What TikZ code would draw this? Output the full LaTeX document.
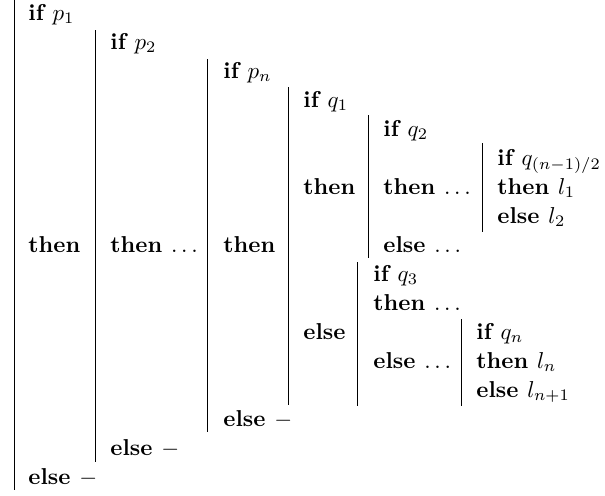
\documentclass[tikz,border=0pt]{standalone}
\usepackage{tikz}

\tikzset{
	kw/.style={anchor=base west, inner sep=0pt, font=\bfseries},
	bar/.style={line width=0.3pt}
}

\begin{document}
\begin{tikzpicture}[x=0.435pt, y=-0.435pt]
\useasboundingbox (0,0) rectangle (605,495);
% outer chain of p's
\node[kw] (ifp1) at (28,20) {if $p_1$};
\node[kw] (ifp2) at (110,49) {if $p_2$};
\node[kw] (ifpn) at (223,78) {if $p_n$};
\node[kw] (ifq1) at (303,107) {if $q_1$};
\node[kw] (ifq2) at (383,136) {if $q_2$};
\node[kw] (ifqh) at (497,165) {if $q_{(n-1)/2}$};
\node[kw] (thenq1) at (303,194) {then};
\node[kw] (thenq2) at (383,194) {then $\ldots$};
\node[kw] (thenl1) at (497,194) {then $l_1$};
\node[kw] (elsel2) at (497,223) {else $l_2$};
\node[kw] (then1) at (28,252) {then};
\node[kw] (then2) at (110,252) {then $\ldots$};
\node[kw] (then3) at (223,252) {then};
\node[kw] (elseq2) at (383,252) {else $\ldots$};
% else branch of q1
\node[kw] (ifq3) at (373,281) {if $q_3$};
\node[kw] (thenq3) at (373,310) {then $\ldots$};
\node[kw] (elseq1) at (303,339) {else};
\node[kw] (ifqn) at (476,339) {if $q_n$};
\node[kw] (elseq3) at (373,368) {else $\ldots$};
\node[kw] (thenln) at (476,368) {then $l_n$};
\node[kw] (elseln) at (476,397) {else $l_{n+1}$};
\node[kw] (elsepn) at (223,426) {else $-$};
\node[kw] (elsep2) at (110,455) {else $-$};
\node[kw] (elsep1) at (28,484) {else $-$};
% vertical bars
\foreach \x/\ya/\yb in {14/0/490, 95/30/462, 207/59/432, 288/87/405,
	368/115/258, 482/143/232, 357/262/406, 461/319/406}
	\draw[bar] (\x,\ya) -- (\x,\yb);
\end{tikzpicture}
\end{document}
